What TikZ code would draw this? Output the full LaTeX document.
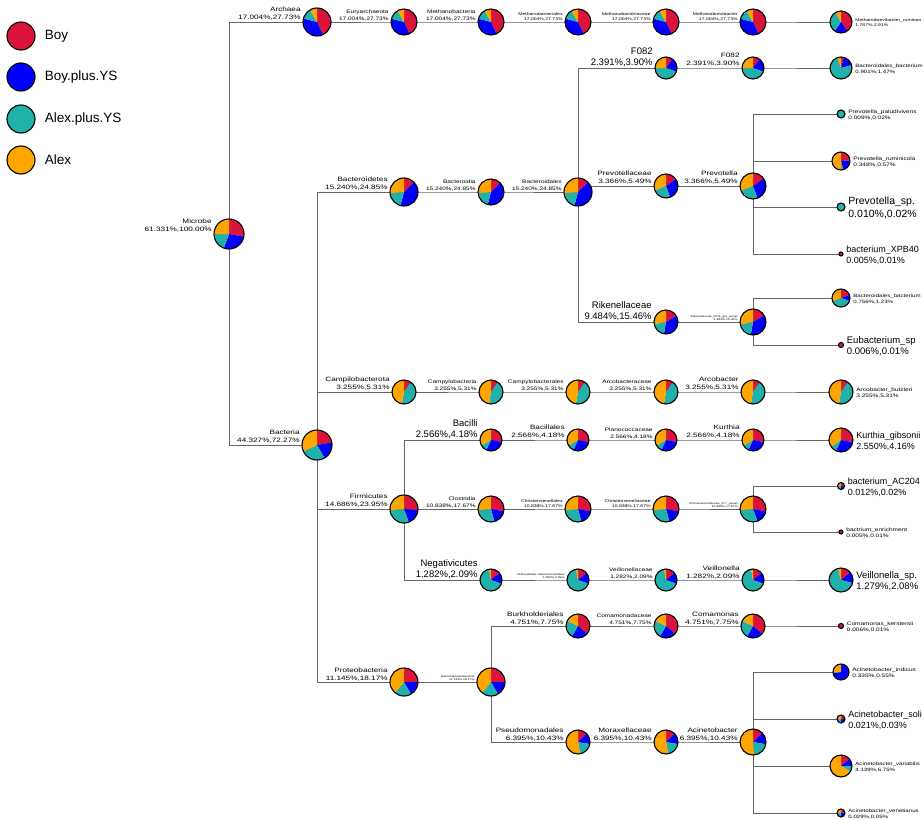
\documentclass[tikz,border=0pt]{standalone}
\usepackage{fontspec}
\setmainfont{Liberation Sans}
\newfontfamily\widesf[FakeStretch=1.3]{Liberation Sans}
\usetikzlibrary{positioning,backgrounds}
\definecolor{cboy}{HTML}{DC143C}
\definecolor{cbys}{HTML}{0000FF}
\definecolor{caps}{HTML}{20B2AA}
\definecolor{calx}{HTML}{FFA500}
% name, centre, radius, end angles of Boy / Boy.plus.YS / Alex.plus.YS (clockwise from top)
\newcommand{\taxpie}[6]{%
  \node[pienode, minimum size=2*#3] (#1) at (#2) {};
  \fill[cboy] (#2) -- ++(90:#3) arc[start angle=90, end angle=90-#4, radius=#3] -- cycle;
  \fill[cbys] (#2) -- ++(90-#4:#3) arc[start angle=90-#4, end angle=90-#5, radius=#3] -- cycle;
  \fill[caps] (#2) -- ++(90-#5:#3) arc[start angle=90-#5, end angle=90-#6, radius=#3] -- cycle;
  \fill[calx] (#2) -- ++(90-#6:#3) arc[start angle=90-#6, end angle=-270, radius=#3] -- cycle;
  \draw[pieline] (#2) circle[radius=#3];}

\begin{document}
\begin{tikzpicture}[x=1pt, y=1pt,
  pienode/.style={circle, inner sep=0pt},
  pieline/.style={draw=black, line width=1.1pt},
  edge/.style={draw=black!60, line width=0.7pt},
  lin/.style={anchor=south east, align=right, inner sep=0pt, xshift=-2pt, yshift=1pt},
  lout/.style={anchor=west, align=left, inner sep=0pt, xshift=3pt, yshift=-1pt},
  lt/.style={font=\widesf\fontsize{2.6}{3.4}\selectfont},
  lx/.style={font=\widesf\fontsize{3.9}{5.2}\selectfont},
  lr/.style={font=\widesf\fontsize{4.7}{6.2}\selectfont},
  ls/.style={font=\widesf\fontsize{5}{6.5}\selectfont},
  lm/.style={font=\widesf\fontsize{6.3}{8}\selectfont},
  lk/.style={font=\fontsize{9}{11}\selectfont},
  ll/.style={font=\fontsize{9.5}{11}\selectfont},
  lL/.style={font=\fontsize{10.5}{13}\selectfont},
  legdot/.style={circle, draw=black, line width=1.1pt, minimum size=28pt, inner sep=0pt},
  legtxt/.style={font=\fontsize{13.5}{15}\selectfont, inner sep=0pt}]
\useasboundingbox (0,0) rectangle (924,-819);

% legend
\node[legdot, fill=cboy] (lboy) at (21,-36) {};
\node[legdot, fill=cbys] (lbys) at (21,-77) {};
\node[legdot, fill=caps] (laps) at (21,-119) {};
\node[legdot, fill=calx] (lalx) at (21,-160) {};
\node[legtxt, right=9pt of lboy] (tboy) {Boy};
\node[legtxt, right=9pt of lbys] (tbys) {Boy.plus.YS};
\node[legtxt, right=9pt of laps] (taps) {Alex.plus.YS};
\node[legtxt, right=9pt of lalx] (talx) {Alex};

% root
\taxpie{micr}{229,-234}{15}{100}{200}{270}
\node[lm, lin] (micrL) at (micr.west) {Microbe\\61.331\%,100.00\%};

% archaea
\taxpie{arch}{317,-22}{14}{155}{285}{330}
\taxpie{eury}{404,-22}{13}{155}{285}{330}
\taxpie{mbcl}{491,-22}{13}{155}{285}{330}
\taxpie{mbor}{578,-22}{13}{155}{285}{330}
\taxpie{mbfa}{666,-22}{13}{155}{285}{330}
\taxpie{mbge}{753,-22}{13}{155}{285}{330}
\taxpie{mbru}{841,-22}{11}{145}{215}{330}
\node[lm, lin] (archL) at (arch.west) {Archaea\\17.004\%,27.73\%};
\node[ls, lin] (euryL) at (eury.west) {Euryarchaeota\\17.004\%,27.73\%};
\node[ls, lin] (mbclL) at (mbcl.west) {Methanobacteria\\17.004\%,27.73\%};
\node[lx, lin] (mborL) at (mbor.west) {Methanobacteriales\\17.004\%,27.73\%};
\node[lx, lin] (mbfaL) at (mbfa.west) {Methanobacteriaceae\\17.004\%,27.73\%};
\node[lx, lin] (mbgeL) at (mbge.west) {Methanobrevibacter\\17.004\%,27.73\%};
\node[lx, lout] (mbruL) at (mbru.east) {Methanobrevibacter\_ruminan\\1.787\%,2.91\%};

% bacteria
\taxpie{bact}{317,-445}{15}{80}{150}{245}
\node[lm, lin] (bactL) at (bact.west) {Bacteria\\44.327\%,72.27\%};

% bacteroidetes
\taxpie{bcdt}{404,-192}{14}{45}{195}{265}
\taxpie{bcdi}{491,-192}{13}{45}{195}{265}
\taxpie{bcdl}{578,-192}{14}{45}{195}{265}
\node[lm, lin] (bcdtL) at (bcdt.west) {Bacteroidetes\\15.240\%,24.85\%};
\node[ls, lin] (bcdiL) at (bcdi.west) {Bacteroidia\\15.240\%,24.85\%};
\node[ls, lin] (bcdlL) at (bcdl.west) {Bacteroidales\\15.240\%,24.85\%};
\taxpie{fofa}{666,-68}{11}{35}{110}{270}
\taxpie{foge}{753,-68}{11}{35}{110}{270}
\taxpie{bcba}{841,-68}{11}{15}{75}{340}
\node[ll, lin] (fofaL) at (fofa.west) {F082\\2.391\%,3.90\%};
\node[lm, lin] (fogeL) at (foge.west) {F082\\2.391\%,3.90\%};
\node[lr, lout] (bcbaL) at (bcba.east) {Bacteroidales\_bacterium\\0.901\%,1.47\%};
\taxpie{prvf}{666,-186}{12}{55}{160}{250}
\taxpie{prvg}{753,-186}{13}{55}{160}{250}
\taxpie{ppal}{841,-114}{4}{0}{0}{360}
\taxpie{prum}{841,-161}{9}{85}{165}{180}
\taxpie{prsp}{841,-207}{4}{0}{0}{360}
\taxpie{bxpb}{841,-254}{2}{360}{360}{360}
\node[lm, lin] (prvfL) at (prvf.west) {Prevotellaceae\\3.366\%,5.49\%};
\node[lm, lin] (prvgL) at (prvg.west) {Prevotella\\3.366\%,5.49\%};
\node[ls, lout] (ppalL) at (ppal.east) {Prevotella\_paludivivens\\0.009\%,0.02\%};
\node[ls, lout] (prumL) at (prum.east) {Prevotella\_ruminicola\\0.348\%,0.57\%};
\node[lL, lout] (prspL) at (prsp.east) {Prevotella\_sp.\\0.010\%,0.02\%};
\node[lk, lout] (bxpbL) at (bxpb.east) {bacterium\_XPB40\\0.005\%,0.01\%};
\taxpie{rikf}{666,-322}{12}{60}{190}{260}
\taxpie{rikg}{753,-322}{13}{60}{190}{260}
\taxpie{bcbb}{841,-298}{9}{70}{110}{250}
\taxpie{eusp}{841,-345}{2.5}{360}{360}{360}
\node[ll, lin] (rikfL) at (rikf.west) {Rikenellaceae\\9.484\%,15.46\%};
\node[lt, lin] (rikgL) at (rikg.west) {Rikenellaceae\_RC9\_gut\_group\\9.484\%,15.46\%};
\node[lr, lout] (bcbbL) at (bcbb.east) {Bacteroidales\_bacterium\\0.756\%,1.23\%};
\node[ll, lout] (euspL) at (eusp.east) {Eubacterium\_sp\\0.006\%,0.01\%};

% campylobacteria
\taxpie{cmpp}{404,-392}{12}{35}{35}{190}
\taxpie{cmpc}{491,-392}{12}{35}{35}{190}
\taxpie{cmpo}{578,-392}{12}{35}{35}{190}
\taxpie{arcf}{666,-392}{12}{35}{35}{190}
\taxpie{arcg}{753,-392}{12}{35}{35}{190}
\taxpie{arcb}{841,-392}{12}{35}{35}{190}
\node[lm, lin] (cmppL) at (cmpp.west) {Campilobacterota\\3.255\%,5.31\%};
\node[ls, lin] (cmpcL) at (cmpc.west) {Campylobacteria\\3.255\%,5.31\%};
\node[ls, lin] (cmpoL) at (cmpo.west) {Campylobacterales\\3.255\%,5.31\%};
\node[ls, lin] (arcfL) at (arcf.west) {Arcobacteraceae\\3.255\%,5.31\%};
\node[lm, lin] (arcgL) at (arcg.west) {Arcobacter\\3.255\%,5.31\%};
\node[ls, lout] (arcbL) at (arcb.east) {Arcobacter\_butzleri\\3.255\%,5.31\%};

% firmicutes
\taxpie{firm}{404,-509}{14}{95}{160}{265}
\node[lm, lin] (firmL) at (firm.west) {Firmicutes\\14.686\%,23.95\%};
\taxpie{bacc}{491,-440}{11}{100}{205}{240}
\taxpie{baco}{578,-440}{11}{100}{205}{240}
\taxpie{plan}{666,-440}{11}{100}{205}{240}
\taxpie{kurg}{753,-440}{11}{100}{205}{240}
\taxpie{kurs}{841,-440}{12}{100}{205}{235}
\node[ll, lin] (baccL) at (bacc.west) {Bacilli\\2.566\%,4.18\%};
\node[lm, lin] (bacoL) at (baco.west) {Bacillales\\2.566\%,4.18\%};
\node[ls, lin] (planL) at (plan.west) {Planococcaceae\\2.566\%,4.18\%};
\node[lm, lin] (kurgL) at (kurg.west) {Kurthia\\2.566\%,4.18\%};
\node[lk, lout] (kursL) at (kurs.east) {Kurthia\_gibsonii\\2.550\%,4.16\%};
\taxpie{clos}{491,-509}{13}{100}{165}{265}
\taxpie{chro}{578,-509}{13}{100}{165}{265}
\taxpie{chrf}{666,-509}{13}{100}{165}{265}
\taxpie{chrg}{753,-509}{13}{100}{160}{265}
\taxpie{bacg}{841,-486}{3.5}{90}{180}{270}
\taxpie{benr}{841,-532}{2}{360}{360}{360}
\node[ls, lin] (closL) at (clos.west) {Clostridia\\10.838\%,17.67\%};
\node[lx, lin] (chroL) at (chro.west) {Christensenellales\\10.838\%,17.67\%};
\node[lx, lin] (chrfL) at (chrf.west) {Christensenellaceae\\10.838\%,17.67\%};
\node[lt, lin] (chrgL) at (chrg.west) {Christensenellaceae\_R-7\_group\\10.838\%,17.67\%};
\node[lk, lout] (bacgL) at (bacg.east) {bacterium\_AC204\\0.012\%,0.02\%};
\node[ls, lout] (benrL) at (benr.east) {bactrium\_enrichment\\0.005\%,0.01\%};
\taxpie{negc}{491,-580}{11}{50}{110}{350}
\taxpie{veio}{578,-580}{11}{50}{110}{350}
\taxpie{veif}{666,-580}{11}{50}{110}{350}
\taxpie{veig}{753,-580}{11}{50}{110}{350}
\taxpie{veis}{841,-580}{12}{50}{105}{345}
\node[ll, lin] (negcL) at (negc.west) {Negativicutes\\1.282\%,2.09\%};
\node[lt, lin] (veioL) at (veio.west) {Veillonellales-Selenomonadales\\1.282\%,2.09\%};
\node[ls, lin] (veifL) at (veif.west) {Veillonellaceae\\1.282\%,2.09\%};
\node[lm, lin] (veigL) at (veig.west) {Veillonella\\1.282\%,2.09\%};
\node[ll, lout] (veisL) at (veis.east) {Veillonella\_sp.\\1.279\%,2.08\%};

% proteobacteria
\taxpie{prot}{404,-682}{14}{90}{150}{220}
\taxpie{gamm}{491,-682}{14}{90}{150}{220}
\node[lm, lin] (protL) at (prot.west) {Proteobacteria\\11.145\%,18.17\%};
\node[lt, lin] (gammL) at (gamm.west) {Gammaproteobacteria\\11.145\%,18.17\%};
\taxpie{burk}{578,-626}{12}{130}{210}{295}
\taxpie{comf}{666,-626}{12}{130}{210}{295}
\taxpie{comg}{753,-626}{12}{130}{210}{295}
\taxpie{comk}{841,-626}{2.5}{360}{360}{360}
\node[lm, lin] (burkL) at (burk.west) {Burkholderiales\\4.751\%,7.75\%};
\node[ls, lin] (comfL) at (comf.west) {Comamonadaceae\\4.751\%,7.75\%};
\node[lm, lin] (comgL) at (comg.west) {Comamonas\\4.751\%,7.75\%};
\node[ls, lout] (comkL) at (comk.east) {Comamonas\_kerstersii\\0.006\%,0.01\%};
\taxpie{pseu}{578,-742}{12}{45}{100}{170}
\taxpie{morx}{666,-742}{12}{45}{100}{170}
\taxpie{acig}{753,-742}{13}{45}{100}{175}
\taxpie{acii}{841,-672}{8}{0}{262}{270}
\taxpie{acis}{841,-719}{4}{90}{180}{270}
\taxpie{aciv}{841,-766}{11}{50}{90}{120}
\taxpie{acin}{841,-813}{4}{90}{180}{270}
\node[lm, lin] (pseuL) at (pseu.west) {Pseudomonadales\\6.395\%,10.43\%};
\node[lm, lin] (morxL) at (morx.west) {Moraxellaceae\\6.395\%,10.43\%};
\node[lm, lin] (acigL) at (acig.west) {Acinetobacter\\6.395\%,10.43\%};
\node[ls, lout] (aciiL) at (acii.east) {Acinetobacter\_indicus\\0.335\%,0.55\%};
\node[lk, lout] (acisL) at (acis.east) {Acinetobacter\_soli\\0.021\%,0.03\%};
\node[lr, lout] (acivL) at (aciv.east) {Acinetobacter\_variabilis\\4.139\%,6.75\%};
\node[lr, lout] (acinL) at (acin.east) {Acinetobacter\_venetianus\\0.029\%,0.05\%};

% tree edges behind the pies
\begin{pgfonlayer}{background}
\draw[edge] (micr.center) |- (arch.center);
\draw[edge] (micr.center) |- (bact.center);
\draw[edge] (arch.center) -- (eury.center) -- (mbcl.center) -- (mbor.center)
  -- (mbfa.center) -- (mbge.center) -- (mbru.center);
\draw[edge] (bact.center) |- (bcdt.center);
\draw[edge] (bact.center) |- (cmpp.center);
\draw[edge] (bact.center) |- (firm.center);
\draw[edge] (bact.center) |- (prot.center);
\draw[edge] (bcdt.center) -- (bcdi.center) -- (bcdl.center);
\draw[edge] (bcdl.center) |- (fofa.center);
\draw[edge] (bcdl.center) |- (prvf.center);
\draw[edge] (bcdl.center) |- (rikf.center);
\draw[edge] (fofa.center) -- (foge.center) -- (bcba.center);
\draw[edge] (prvf.center) -- (prvg.center);
\foreach \leaf in {ppal, prum, prsp, bxpb}
  \draw[edge] (prvg.center) |- (\leaf.center);
\draw[edge] (rikf.center) -- (rikg.center);
\draw[edge] (rikg.center) |- (bcbb.center);
\draw[edge] (rikg.center) |- (eusp.center);
\draw[edge] (cmpp.center) -- (cmpc.center) -- (cmpo.center) -- (arcf.center)
  -- (arcg.center) -- (arcb.center);
\draw[edge] (firm.center) |- (bacc.center);
\draw[edge] (firm.center) |- (clos.center);
\draw[edge] (firm.center) |- (negc.center);
\draw[edge] (bacc.center) -- (baco.center) -- (plan.center) -- (kurg.center) -- (kurs.center);
\draw[edge] (clos.center) -- (chro.center) -- (chrf.center) -- (chrg.center);
\draw[edge] (chrg.center) |- (bacg.center);
\draw[edge] (chrg.center) |- (benr.center);
\draw[edge] (negc.center) -- (veio.center) -- (veif.center) -- (veig.center) -- (veis.center);
\draw[edge] (prot.center) -- (gamm.center);
\draw[edge] (gamm.center) |- (burk.center);
\draw[edge] (gamm.center) |- (pseu.center);
\draw[edge] (burk.center) -- (comf.center) -- (comg.center) -- (comk.center);
\draw[edge] (pseu.center) -- (morx.center) -- (acig.center);
\foreach \leaf in {acii, acis, aciv, acin}
  \draw[edge] (acig.center) |- (\leaf.center);
\end{pgfonlayer}
\end{tikzpicture}
\end{document}
